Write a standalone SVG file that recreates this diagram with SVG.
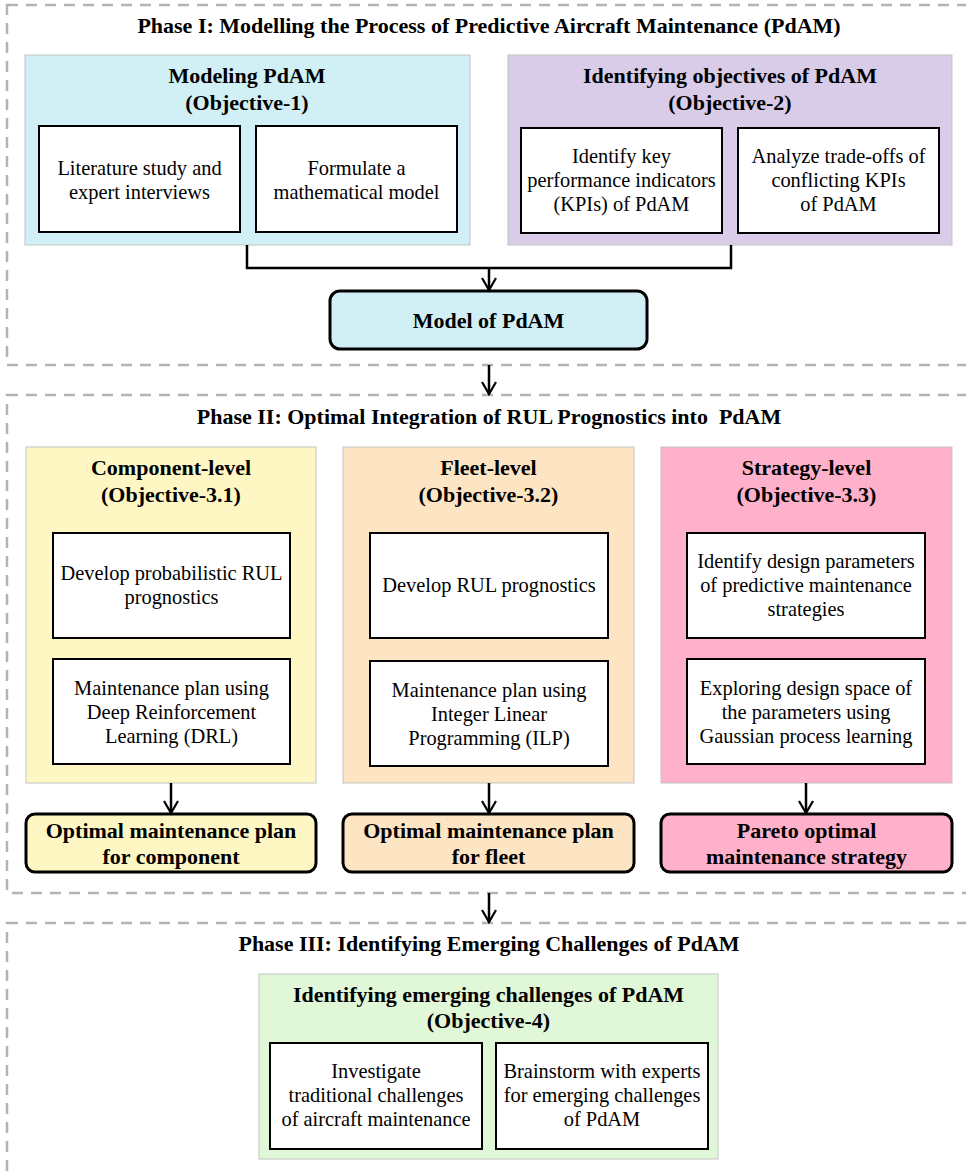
<svg xmlns="http://www.w3.org/2000/svg" width="966" height="1174" viewBox="0 0 966 1174">
<style>
.phase{fill:none;stroke:#b3b3b3;stroke-width:2.5;stroke-dasharray:11 8}
.cont{stroke:#c4c4c4;stroke-width:1}
.inner{fill:#fff;stroke:#000;stroke-width:2}
.out{stroke:#000;stroke-width:3}
.t{fill:#000;text-anchor:middle}
.h{font-size:22px;font-weight:bold}
.b{font-size:20.4px}
.conn{fill:none;stroke:#000;stroke-width:2.5}
</style>
<defs>
<marker id="arr" viewBox="-14 -9 16 18" refX="0" refY="0" markerWidth="16" markerHeight="18" markerUnits="userSpaceOnUse" orient="auto" overflow="visible">
<path d="M-12,-7 L0,0 L-12,7" fill="none" stroke="#000" stroke-width="2.2"/>
</marker>
</defs>
<rect width="966" height="1174" fill="#fff"/>

<g id="phase1">
<rect class="phase" x="7" y="5" width="975" height="360"/>
<text class="t h" font-family="Liberation Serif" x="489" y="33">Phase I: Modelling the Process of Predictive Aircraft Maintenance (PdAM)</text>
</g>
<g id="objective1">
<rect class="cont" x="25" y="55" width="445" height="190" fill="#d0f0f5"/>
<text class="t h" font-family="Liberation Serif" x="247" y="83">Modeling PdAM</text>
<text class="t h" font-family="Liberation Serif" x="247" y="110">(Objective-1)</text>
</g>
<g id="lit-study">
<rect class="inner" x="39" y="126" width="201" height="106"/>
<text class="t b" font-family="Liberation Serif" x="139.5" y="175">Literature study and</text>
<text class="t b" font-family="Liberation Serif" x="139.5" y="199">expert interviews</text>
</g>
<g id="formulate">
<rect class="inner" x="256" y="126" width="201" height="106"/>
<text class="t b" font-family="Liberation Serif" x="356.5" y="175">Formulate a</text>
<text class="t b" font-family="Liberation Serif" x="356.5" y="199">mathematical model</text>
</g>
<g id="objective2">
<rect class="cont" x="508" y="55" width="444" height="190" fill="#d9cce8"/>
<text class="t h" font-family="Liberation Serif" x="730" y="83">Identifying objectives of PdAM</text>
<text class="t h" font-family="Liberation Serif" x="730" y="110">(Objective-2)</text>
</g>
<g id="kpis">
<rect class="inner" x="521" y="128" width="201" height="105"/>
<text class="t b" font-family="Liberation Serif" x="621.5" y="163">Identify key</text>
<text class="t b" font-family="Liberation Serif" x="621.5" y="187">performance indicators</text>
<text class="t b" font-family="Liberation Serif" x="621.5" y="211">(KPIs) of PdAM</text>
</g>
<g id="tradeoffs">
<rect class="inner" x="738" y="128" width="201" height="105"/>
<text class="t b" font-family="Liberation Serif" x="838.5" y="163">Analyze trade-offs of</text>
<text class="t b" font-family="Liberation Serif" x="838.5" y="187">conflicting KPIs</text>
<text class="t b" font-family="Liberation Serif" x="838.5" y="211">of PdAM</text>
</g>
<g id="model">
<rect class="out" x="330" y="291" width="317" height="58" rx="10" fill="#d0f0f5"/>
<text class="t h" font-family="Liberation Serif" x="488.5" y="328">Model of PdAM</text>
</g>

<g id="phase2">
<rect class="phase" x="7" y="395" width="975" height="498"/>
<text class="t h" font-family="Liberation Serif" x="489" y="424" xml:space="preserve">Phase II: Optimal Integration of RUL Prognostics into  PdAM</text>
</g>
<g id="component-level">
<rect class="cont" x="26" y="447" width="290" height="336" fill="#fff7c3"/>
<text class="t h" font-family="Liberation Serif" x="171" y="475">Component-level</text>
<text class="t h" font-family="Liberation Serif" x="171" y="502">(Objective-3.1)</text>
</g>
<g id="prob-rul">
<rect class="inner" x="53" y="533" width="237" height="105"/>
<text class="t b" font-family="Liberation Serif" x="171.5" y="580">Develop probabilistic RUL</text>
<text class="t b" font-family="Liberation Serif" x="171.5" y="604">prognostics</text>
</g>
<g id="drl">
<rect class="inner" x="53" y="659" width="237" height="105"/>
<text class="t b" font-family="Liberation Serif" x="171.5" y="695">Maintenance plan using</text>
<text class="t b" font-family="Liberation Serif" x="171.5" y="719">Deep Reinforcement</text>
<text class="t b" font-family="Liberation Serif" x="171.5" y="743">Learning (DRL)</text>
</g>
<g id="out-component">
<rect class="out" x="26" y="814" width="290" height="58" rx="9" fill="#fff7c3"/>
<text class="t h" font-family="Liberation Serif" x="171" y="838">Optimal maintenance plan</text>
<text class="t h" font-family="Liberation Serif" x="171" y="864">for component</text>
</g>
<g id="fleet-level">
<rect class="cont" x="343" y="447" width="291" height="336" fill="#fde4c2"/>
<text class="t h" font-family="Liberation Serif" x="488.5" y="475">Fleet-level</text>
<text class="t h" font-family="Liberation Serif" x="488.5" y="502">(Objective-3.2)</text>
</g>
<g id="rul">
<rect class="inner" x="370" y="533" width="238" height="105"/>
<text class="t b" font-family="Liberation Serif" x="489" y="592">Develop RUL prognostics</text>
</g>
<g id="ilp">
<rect class="inner" x="370" y="661" width="238" height="105"/>
<text class="t b" font-family="Liberation Serif" x="489" y="697">Maintenance plan using</text>
<text class="t b" font-family="Liberation Serif" x="489" y="721">Integer Linear</text>
<text class="t b" font-family="Liberation Serif" x="489" y="745">Programming (ILP)</text>
</g>
<g id="out-fleet">
<rect class="out" x="343" y="814" width="291" height="58" rx="9" fill="#fde4c2"/>
<text class="t h" font-family="Liberation Serif" x="488.5" y="838">Optimal maintenance plan</text>
<text class="t h" font-family="Liberation Serif" x="488.5" y="864">for fleet</text>
</g>
<g id="strategy-level">
<rect class="cont" x="661" y="447" width="291" height="336" fill="#ffb0ca"/>
<text class="t h" font-family="Liberation Serif" x="806.5" y="475">Strategy-level</text>
<text class="t h" font-family="Liberation Serif" x="806.5" y="502">(Objective-3.3)</text>
</g>
<g id="design-params">
<rect class="inner" x="687" y="533" width="238" height="105"/>
<text class="t b" font-family="Liberation Serif" x="806" y="568">Identify design parameters</text>
<text class="t b" font-family="Liberation Serif" x="806" y="592">of predictive maintenance</text>
<text class="t b" font-family="Liberation Serif" x="806" y="616">strategies</text>
</g>
<g id="gp">
<rect class="inner" x="687" y="659" width="238" height="105"/>
<text class="t b" font-family="Liberation Serif" x="806" y="695">Exploring design space of</text>
<text class="t b" font-family="Liberation Serif" x="806" y="719">the parameters using</text>
<text class="t b" font-family="Liberation Serif" x="806" y="743">Gaussian process learning</text>
</g>
<g id="out-strategy">
<rect class="out" x="661" y="814" width="291" height="58" rx="9" fill="#ffb0ca"/>
<text class="t h" font-family="Liberation Serif" x="806.5" y="838">Pareto optimal</text>
<text class="t h" font-family="Liberation Serif" x="806.5" y="864">maintenance strategy</text>
</g>

<g id="phase3">
<rect class="phase" x="7" y="923" width="975" height="270"/>
<text class="t h" font-family="Liberation Serif" x="489" y="951">Phase III: Identifying Emerging Challenges of PdAM</text>
</g>
<g id="objective4">
<rect class="cont" x="259" y="974" width="459" height="185" fill="#e0f7d8"/>
<text class="t h" font-family="Liberation Serif" x="488.5" y="1002">Identifying emerging challenges of PdAM</text>
<text class="t h" font-family="Liberation Serif" x="488.5" y="1028">(Objective-4)</text>
</g>
<g id="traditional">
<rect class="inner" x="270" y="1043" width="212" height="106"/>
<text class="t b" font-family="Liberation Serif" x="376" y="1078">Investigate</text>
<text class="t b" font-family="Liberation Serif" x="376" y="1102">traditional challenges</text>
<text class="t b" font-family="Liberation Serif" x="376" y="1126">of aircraft maintenance</text>
</g>
<g id="brainstorm">
<rect class="inner" x="496" y="1043" width="212" height="106"/>
<text class="t b" font-family="Liberation Serif" x="602" y="1078">Brainstorm with experts</text>
<text class="t b" font-family="Liberation Serif" x="602" y="1102">for emerging challenges</text>
<text class="t b" font-family="Liberation Serif" x="602" y="1126">of PdAM</text>
</g>

<g id="connectors">
<path class="conn" d="M247,245 V268 H731 V245"/>
<path class="conn" d="M489,268 V290" marker-end="url(#arr)"/>
<path class="conn" d="M489,365 V394" marker-end="url(#arr)"/>
<path class="conn" d="M171,783 V813" marker-end="url(#arr)"/>
<path class="conn" d="M489,783 V813" marker-end="url(#arr)"/>
<path class="conn" d="M806,783 V813" marker-end="url(#arr)"/>
<path class="conn" d="M489,893 V922" marker-end="url(#arr)"/>
</g>
</svg>
